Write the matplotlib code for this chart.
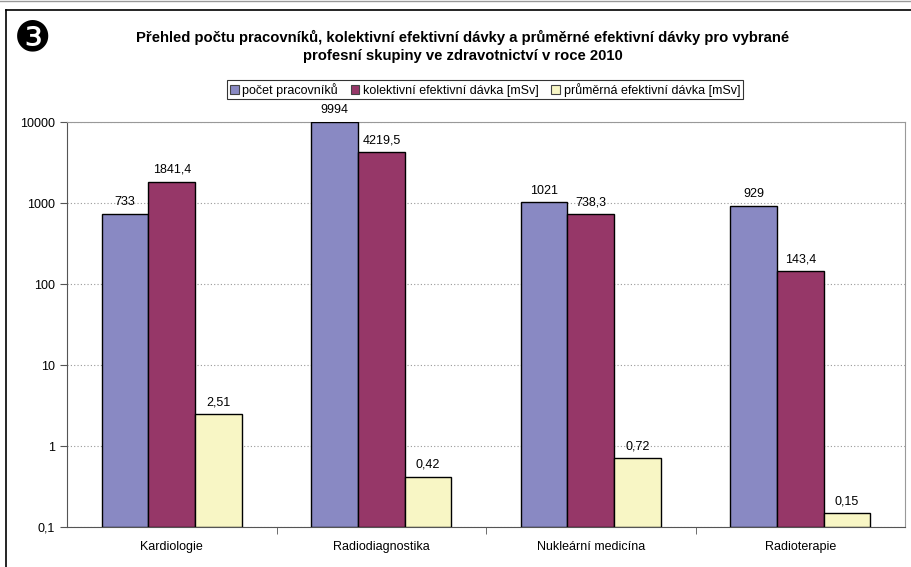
import matplotlib.pyplot as plt
import numpy as np
from matplotlib.patches import Rectangle
from matplotlib.lines import Line2D
from matplotlib.ticker import FixedLocator, FuncFormatter, NullLocator

plt.rcParams['font.family'] = ['Liberation Sans', 'DejaVu Sans']

categories = ["Kardiologie", "Radiodiagnostika", "Nukleární medicína", "Radioterapie"]
pocet = [733, 9994, 1021, 929]
kolektivni = [1841.4, 4219.5, 738.3, 143.4]
prumerna = [2.51, 0.42, 0.72, 0.15]

series_names = ["počet pracovníků", "kolektivní efektivní dávka [mSv]", "průměrná efektivní dávka [mSv]"]
colors = ["#8989C3", "#963768", "#F8F6C5"]

def fmt(v):
    s = f"{v:g}"
    return s.replace(".", ",")

fig = plt.figure(figsize=(9.12, 5.67), dpi=100)
ax = fig.add_axes([0.0735, 0.0705, 0.919, 0.7143])

base = 0.1
x = np.arange(len(categories))
w = 0.223
for i, (vals, col) in enumerate(zip([pocet, kolektivni, prumerna], colors)):
    pos = x + (i - 1) * w
    ax.bar(pos, np.array(vals) - base, width=w, bottom=base, color=col,
           edgecolor="black", linewidth=1.0, zorder=3)
    for px, v in zip(pos, vals):
        ax.annotate(fmt(v), (px, v), xytext=(0, 4), textcoords="offset points",
                    ha="center", va="bottom", fontsize=9, annotation_clip=False, zorder=4)

ax.set_yscale("log")
ax.set_ylim(0.1, 10000)
ax.set_xlim(-0.5, len(categories) - 0.5)
ax.yaxis.set_major_locator(FixedLocator([0.1, 1, 10, 100, 1000, 10000]))
ax.yaxis.set_minor_locator(NullLocator())
ax.yaxis.set_major_formatter(FuncFormatter(lambda v, p: fmt(v)))
ax.grid(axis="y", color="#999999", linestyle=(0, (1, 2)), linewidth=0.8, zorder=0)

ax.set_xticks(x)
ax.set_xticklabels(categories, fontsize=9)
ax.xaxis.set_minor_locator(FixedLocator(x[:-1] + 0.5))
ax.tick_params(axis="x", which="major", length=0, pad=10)
ax.tick_params(axis="x", which="minor", length=5, color="#555555", direction="out")
ax.tick_params(axis="y", labelsize=9, length=5, color="#555555")

for s in ["left", "bottom"]:
    ax.spines[s].set_color("#555555")
for s in ["top", "right"]:
    ax.spines[s].set_color("#999999")

# title
fig.text(0.507, 0.918, "Přehled počtu pracovníků, kolektivní efektivní dávky a průměrné efektivní dávky pro vybrané\nprofesní skupiny ve zdravotnictví v roce 2010",
         ha="center", va="center", fontsize=10.7, fontweight="bold", linespacing=1.35)
fig.text(0.036, 0.932, "\u2778", ha="center", va="center", fontsize=30, family="DejaVu Sans")

handles = [Rectangle((0, 0), 1, 1, facecolor=c, edgecolor="#444444", linewidth=0.8) for c in colors]
leg = fig.legend(handles, series_names, loc="center", bbox_to_anchor=(0.532, 0.842), ncol=3,
                 fontsize=9, frameon=True, fancybox=False, handlelength=0.7, handleheight=0.7,
                 handletextpad=0.3, columnspacing=1.0, borderpad=0.2)
leg.get_frame().set_edgecolor("black")
leg.get_frame().set_linewidth(0.8)

# page frame
fig.add_artist(Line2D([0.0063, 0.0063], [0.0, 0.983], color="black", linewidth=1.2))
fig.add_artist(Line2D([0.0063, 1.0], [0.983, 0.983], color="black", linewidth=1.2))
fig.add_artist(Line2D([0.0, 1.0], [0.998, 0.998], color="#999999", linewidth=1.0))

fig.savefig("out.png", dpi=100)
